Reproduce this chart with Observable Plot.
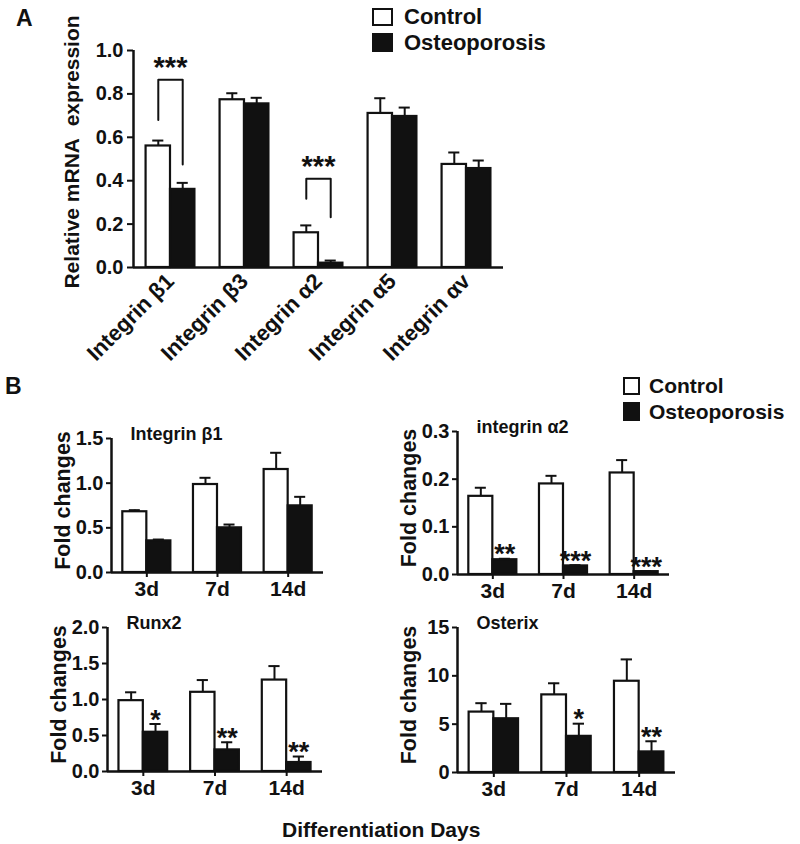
<!DOCTYPE html>
<html>
<head>
<meta charset="utf-8">
<script src="https://cdn.jsdelivr.net/npm/d3@7"></script>
<script src="https://cdn.jsdelivr.net/npm/@observablehq/plot@0.6"></script>
<style>
  html, body { margin: 0; padding: 0; background: #fff; }
  #fig { position: relative; width: 800px; height: 844px; background: #fff; overflow: hidden;
         font-family: 'Liberation Sans', Arial, sans-serif; font-weight: bold; color: #111; }
  .lab { position: absolute; white-space: nowrap; line-height: 1; }
  .box { position: absolute; box-sizing: border-box; border: 2.5px solid #111; }
</style>
</head>
<body>
<div id="fig"></div>
<script>
// ---------------- Panel A data ----------------
const genesA = ["Integrin β1", "Integrin β3", "Integrin α2", "Integrin α5", "Integrin αv"];
const controlA = [0.56, 0.773, 0.16, 0.71, 0.475];
const controlAErr = [0.025, 0.03, 0.034, 0.07, 0.055];
const osteoA = [0.36, 0.754, 0.02, 0.696, 0.456];
const osteoAErr = [0.03, 0.028, 0.012, 0.041, 0.037];
const yTicksA = [0, 0.2, 0.4, 0.6, 0.8, 1.0];
// significance brackets: group index, top, left-leg end, right-leg end, label
const bracketGroup = [0, 2];
const bracketTop = [0.865, 0.409];
const bracketLeft = [0.68, 0.317];
const bracketRight = [0.475, 0.232];
const bracketLabel = ["***", "***"];

// ---------------- Panel B data ----------------
const days = ["3d", "7d", "14d"];

const itgb1Control = [0.68, 0.985, 1.153];
const itgb1ControlErr = [0.018, 0.075, 0.187];
const itgb1Osteo = [0.354, 0.5, 0.746];
const itgb1OsteoErr = [0.015, 0.037, 0.101];
const itgb1Sig = ["", "", ""];
const itgb1Ticks = [0, 0.5, 1.0, 1.5];

const itga2Control = [0.164, 0.19, 0.213];
const itga2ControlErr = [0.018, 0.017, 0.027];
const itga2Osteo = [0.031, 0.018, 0.006];
const itga2OsteoErr = [0.002, 0.0015, 0.001];
const itga2Sig = ["**", "***", "***"];
const itga2Ticks = [0, 0.1, 0.2, 0.3];

const runx2Control = [0.984, 1.10, 1.27];
const runx2ControlErr = [0.116, 0.17, 0.194];
const runx2Osteo = [0.545, 0.30, 0.125];
const runx2OsteoErr = [0.115, 0.106, 0.083];
const runx2Sig = ["*", "**", "**"];
const runx2Ticks = [0, 0.5, 1.0, 1.5, 2.0];

const osxControl = [6.25, 8.03, 9.44];
const osxControlErr = [0.92, 1.2, 2.26];
const osxOsteo = [5.56, 3.74, 2.13];
const osxOsteoErr = [1.54, 1.31, 1.1];
const osxSig = ["", "*", "**"];
const osxTicks = [0, 5, 10, 15];

// ---------------- helpers ----------------
const INK = "#111";
const FONT = "'Liberation Sans', Arial, sans-serif";
const fig = document.getElementById("fig");

function place(svg, left, top) {
  svg.style.position = "absolute";
  svg.style.left = left + "px";
  svg.style.top = top + "px";
  svg.style.overflow = "visible";
  svg.style.background = "transparent";
  svg.style.fontFamily = FONT;
  svg.style.fontWeight = "bold";
  svg.style.color = INK;
  fig.appendChild(svg);
}
function label(text, left, top, size, extra = "") {
  const d = document.createElement("div");
  d.className = "lab";
  d.textContent = text;
  d.style.cssText += `left:${left}px;top:${top}px;font-size:${size}px;${extra}`;
  fig.appendChild(d);
}
function box(left, top, w, h, fill) {
  const d = document.createElement("div");
  d.className = "box";
  d.style.cssText += `left:${left}px;top:${top}px;width:${w}px;height:${h}px;background:${fill};`;
  fig.appendChild(d);
}
function rowsFor(n, ctrl, ctrlErr, ost, ostErr, sig, barW) {
  const c = [], o = [];
  for (let i = 0; i < n; i++) {
    c.push({i, v: ctrl[i], top: ctrl[i] + ctrlErr[i], x1: i - barW, x2: i, c: i - barW / 2});
    o.push({i, v: ost[i], top: ost[i] + ostErr[i], x1: i, x2: i + barW, c: i + barW / 2, sig: sig ? sig[i] : ""});
  }
  return {c, o};
}
function barMarks(rows, cap) {
  const all = rows.c.concat(rows.o);
  return [
    Plot.ruleX(all, {x: "c", y1: "v", y2: "top", stroke: INK, strokeWidth: 2}),
    Plot.ruleY(all, {y: "top", x1: d => d.c - cap, x2: d => d.c + cap, stroke: INK, strokeWidth: 2}),
    Plot.rectY(rows.c, {x1: "x1", x2: "x2", y: "v", fill: "#fff", stroke: INK, strokeWidth: 2.2}),
    Plot.rectY(rows.o, {x1: "x1", x2: "x2", y: "v", fill: INK, stroke: INK, strokeWidth: 2.2})
  ];
}

// ---------------- Panel A ----------------
{
  const n = genesA.length;
  const barW = 0.33;
  const rows = rowsFor(n, controlA, controlAErr, osteoA, osteoAErr, null, barW);
  const brackets = bracketGroup.flatMap((g, k) => [
    {k, x: g - barW / 2, y: bracketLeft[k]},
    {k, x: g - barW / 2, y: bracketTop[k]},
    {k, x: g + barW / 2, y: bracketTop[k]},
    {k, x: g + barW / 2, y: bracketRight[k]}
  ]);
  const bracketText = bracketGroup.map((g, k) => ({x: g, y: bracketTop[k], t: bracketLabel[k]}));
  const plotA = Plot.plot({
    width: 560, height: 370,
    marginLeft: 133, marginRight: 57, marginTop: 50, marginBottom: 103,
    x: {domain: [-0.5, n - 0.5]},
    y: {domain: [0, 1]},
    style: {fontSize: "20px", fontFamily: FONT, fontWeight: "bold"},
    marks: [
      ...barMarks(rows, 0.075),
      Plot.line(brackets, {x: "x", y: "y", z: "k", stroke: INK, strokeWidth: 2}),
      Plot.text(bracketText, {x: "x", y: "y", text: "t", dy: -12, fontSize: 29, lineAnchor: "middle", fill: INK}),
      Plot.ruleX([-0.5], {y1: 0, y2: 1, stroke: INK, strokeWidth: 2.5}),
      Plot.ruleY([0], {x1: -0.5, x2: n - 0.5, stroke: INK, strokeWidth: 2.5}),
      Plot.axisY({ticks: yTicksA, tickFormat: d3.format(".1f"), tickSize: 6, tickPadding: 4, strokeWidth: 2, label: null, fontSize: 20}),
      Plot.axisX({ticks: d3.range(n), tickFormat: i => genesA[i], tickRotate: -45, tickSize: 0, tickPadding: 10, label: null, fontSize: 22}),
      Plot.text(["Relative mRNA\u00a0 expression"], {text: d => d, frameAnchor: "left", textAnchor: "middle", rotate: -90, dx: -61, dy: -7, fontSize: 21, fill: INK})
    ]
  });
  place(plotA, 0, 0);
}

// ---------------- Panel B ----------------
function panelB(cfg) {
  const {left, top, width, height, axisL, axisR, yTop, yBot, yMax, ticks, fmt,
         title, ctrl, ctrlErr, ost, ostErr, sig} = cfg;
  const barW = 0.34;
  const rows = rowsFor(days.length, ctrl, ctrlErr, ost, ostErr, sig, barW);
  const plot = Plot.plot({
    width, height,
    marginLeft: axisL - left, marginRight: left + width - axisR,
    marginTop: yTop - top, marginBottom: top + height - yBot,
    x: {domain: [-0.5, days.length - 0.5]},
    y: {domain: [0, yMax]},
    style: {fontSize: "20px", fontFamily: FONT, fontWeight: "bold"},
    marks: [
      ...barMarks(rows, 0.078),
      Plot.text(rows.o.filter(d => d.sig), {x: "c", y: "top", text: "sig", dy: -4, fontSize: 27, lineAnchor: "middle", fill: INK}),
      Plot.ruleX([-0.5], {y1: 0, y2: yMax, stroke: INK, strokeWidth: 2.5}),
      Plot.ruleY([0], {x1: -0.5, x2: days.length - 0.5, stroke: INK, strokeWidth: 2.5}),
      Plot.axisY({ticks, tickFormat: fmt, tickSize: 5, tickPadding: 3, strokeWidth: 2, label: null, fontSize: 20}),
      Plot.axisX({ticks: d3.range(days.length), tickFormat: i => days[i], tickSize: 5, tickPadding: 4, strokeWidth: 2, label: null, fontSize: 21}),
      Plot.text([title], {text: d => d, frameAnchor: "top-left", textAnchor: "start", lineAnchor: "middle", dx: 19, dy: -4, fontSize: 18, fill: INK}),
      Plot.text(["Fold changes"], {text: d => d, frameAnchor: "left", textAnchor: "middle", rotate: -90, dx: -48, dy: -5, fontSize: 21.5, fill: INK})
    ]
  });
  place(plot, left, top);
}

panelB({left: 0, top: 400, width: 350, height: 230, axisL: 111, axisR: 323, yTop: 438, yBot: 572,
        yMax: 1.5, ticks: itgb1Ticks, fmt: d3.format(".1f"), title: "Integrin β1",
        ctrl: itgb1Control, ctrlErr: itgb1ControlErr, ost: itgb1Osteo, ostErr: itgb1OsteoErr, sig: itgb1Sig});
panelB({left: 350, top: 400, width: 350, height: 230, axisL: 457, axisR: 669, yTop: 431, yBot: 574,
        yMax: 0.3, ticks: itga2Ticks, fmt: d3.format(".1f"), title: "integrin α2",
        ctrl: itga2Control, ctrlErr: itga2ControlErr, ost: itga2Osteo, ostErr: itga2OsteoErr, sig: itga2Sig});
panelB({left: 0, top: 600, width: 350, height: 220, axisL: 107, axisR: 322, yTop: 627, yBot: 771,
        yMax: 2.0, ticks: runx2Ticks, fmt: d3.format(".1f"), title: "Runx2",
        ctrl: runx2Control, ctrlErr: runx2ControlErr, ost: runx2Osteo, ostErr: runx2OsteoErr, sig: runx2Sig});
panelB({left: 350, top: 600, width: 350, height: 220, axisL: 457, axisR: 675, yTop: 627, yBot: 772,
        yMax: 15, ticks: osxTicks, fmt: d3.format("d"), title: "Osterix",
        ctrl: osxControl, ctrlErr: osxControlErr, ost: osxOsteo, ostErr: osxOsteoErr, sig: osxSig});

// ---------------- panel letters, legends, shared label ----------------
label("A", 16, 7, 23);
label("B", 5, 375, 23);
box(372, 8, 21, 18, "#fff");
box(372, 33, 21, 19, INK);
label("Control", 404, 6, 22);
label("Osteoporosis", 404, 32, 22);
box(623, 377, 17, 18, "#fff");
box(623, 402, 17, 19, INK);
label("Control", 649, 375, 21);
label("Osteoporosis", 649, 401, 21);
label("Differentiation Days", 282, 819, 21);
</script>
</body>
</html>
